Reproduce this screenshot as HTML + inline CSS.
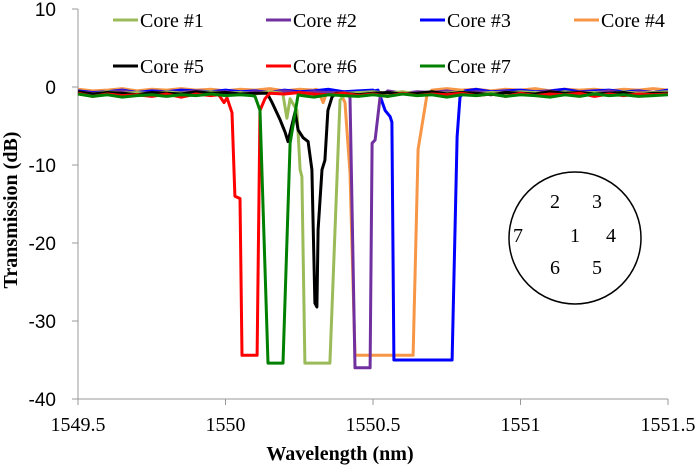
<!DOCTYPE html>
<html><head><meta charset="utf-8"><style>
body{margin:0;background:#fff;}
svg text{font-family:"Liberation Serif",serif;}
</style></head><body>
<svg id="chart" width="700" height="467" xmlns="http://www.w3.org/2000/svg">
<g id="axes"></g>
<g id="series"></g>
<g font-size="20">
 <line x1="113" y1="20" x2="138" y2="20" stroke="#9bbb59" stroke-width="3"/><text x="140" y="27">Core #1</text>
 <line x1="266" y1="20" x2="291" y2="20" stroke="#7030a0" stroke-width="3"/><text x="293" y="27">Core #2</text>
 <line x1="420" y1="20" x2="445" y2="20" stroke="#0000ff" stroke-width="3"/><text x="447" y="27">Core #3</text>
 <line x1="574" y1="20" x2="599" y2="20" stroke="#f79646" stroke-width="3"/><text x="601" y="27">Core #4</text>
 <line x1="113" y1="66" x2="138" y2="66" stroke="#000" stroke-width="3"/><text x="140" y="73">Core #5</text>
 <line x1="266" y1="66" x2="291" y2="66" stroke="#ff0000" stroke-width="3"/><text x="293" y="73">Core #6</text>
 <line x1="420" y1="66" x2="445" y2="66" stroke="#008000" stroke-width="3"/><text x="447" y="73">Core #7</text>
</g>
<g font-size="20" text-anchor="middle">
 <circle cx="575" cy="238" r="66" fill="#fff" stroke="#000" stroke-width="1.5"/>
 <text x="555" y="208">2</text><text x="597" y="208">3</text>
 <text x="518" y="242">7</text><text x="575" y="242">1</text><text x="611" y="242">4</text>
 <text x="555" y="274">6</text><text x="597" y="274">5</text>
</g>
<text x="340" y="460" font-size="20" font-weight="bold" text-anchor="middle">Wavelength (nm)</text>
<text transform="translate(17,210) rotate(-90)" font-size="20" font-weight="bold" text-anchor="middle">Transmission (dB)</text>
</svg>
<script>
const xTicks=[1549.5,1550,1550.5,1551,1551.5];
const xTickLabels=["1549.5","1550","1550.5","1551","1551.5"];
const yTicks=[10,0,-10,-20,-30,-40];
const yTickLabels=["10","0","-10","-20","-30","-40"];
const seriesNames=["Core #1","Core #2","Core #3","Core #4","Core #5","Core #6","Core #7"];
const seriesColors=["#9bbb59","#7030a0","#0000ff","#f79646","#000000","#ff0000","#008000"];
const baseWl=[1549.5,1549.55,1549.6,1549.65,1549.7,1549.75,1549.8,1549.85,1549.9,1549.95,1550.0,1550.05,1550.1,1550.15,1550.2,1550.25,1550.3,1550.35,1550.4,1550.45,1550.5,1550.55,1550.6,1550.65,1550.7,1550.75,1550.8,1550.85,1550.9,1550.95,1551.0,1551.05,1551.1,1551.15,1551.2,1551.25,1551.3,1551.35,1551.4,1551.45,1551.5];
const base1=[-0.7,-0.9,-0.6,-0.8,-0.7,-0.9,-0.6,-0.8,-0.7,-0.6,-0.8,-0.7,-0.9,-0.6,-0.8,-0.7,-0.9,-0.6,-0.8,-0.7,-0.6,-0.8,-0.6,-0.9,-0.7,-0.8,-0.6,-0.9,-0.7,-0.8,-0.6,-0.7,-0.9,-0.6,-0.8,-0.7,-0.9,-0.6,-0.8,-0.7,-0.6];
const base2=[-0.6,-0.8,-0.7,-0.5,-0.8,-0.7,-0.6,-0.7,-0.5,-0.7,-0.6,-0.8,-0.6,-0.7,-0.5,-0.8,-0.6,-0.7,-0.6,-0.8,-0.7,-0.5,-0.8,-0.6,-0.7,-0.5,-0.8,-0.6,-0.7,-0.6,-0.8,-0.7,-0.5,-0.8,-0.6,-0.7,-0.5,-0.8,-0.6,-0.7,-0.7];
const base3=[-0.5,-0.7,-0.6,-0.4,-0.7,-0.5,-0.6,-0.4,-0.5,-0.6,-0.4,-0.6,-0.5,-0.7,-0.4,-0.6,-0.5,-0.3,-0.6,-0.5,-0.4,-0.6,-0.5,-0.7,-0.4,-0.6,-0.5,-0.3,-0.6,-0.5,-0.4,-0.6,-0.5,-0.3,-0.6,-0.5,-0.4,-0.6,-0.5,-0.7,-0.4];
const base4=[-0.3,-0.5,-0.4,-0.2,-0.5,-0.3,-0.4,-0.2,-0.4,-0.3,-0.5,-0.3,-0.4,-0.2,-0.5,-0.3,-0.4,-0.3,-0.5,-0.3,-0.4,-0.2,-0.5,-0.3,-0.4,-0.2,-0.4,-0.3,-0.5,-0.3,-0.4,-0.2,-0.5,-0.3,-0.4,-0.3,-0.5,-0.3,-0.4,-0.2,-0.4];
const base5=[-0.6,-0.9,-0.7,-0.8,-1.0,-0.7,-0.8,-0.9,-0.6,-0.8,-0.7,-0.9,-0.8,-0.7,-1.0,-0.8,-0.7,-0.9,-0.8,-1.0,-0.8,-0.7,-0.9,-0.8,-0.6,-0.9,-0.7,-0.8,-1.0,-0.7,-0.8,-0.9,-0.6,-0.8,-0.7,-0.9,-0.8,-0.7,-1.0,-0.8,-0.8];
const base6=[-0.8,-1.2,-0.9,-1.1,-1.0,-1.2,-0.9,-1.3,-0.9,-1.1,-1.0,-1.2,-0.9,-0.8,-0.9,-0.7,-0.9,-1.0,-0.8,-1.1,-0.9,-1.2,-0.8,-1.1,-0.9,-1.0,-0.8,-1.1,-0.9,-1.2,-0.8,-1.1,-0.9,-1.0,-0.8,-1.2,-0.9,-1.1,-0.9,-1.0,-0.9];
const base7=[-0.9,-1.2,-1.0,-1.3,-1.1,-1.0,-1.2,-1.0,-1.1,-0.9,-1.1,-1.0,-1.2,-0.9,-1.1,-1.0,-1.3,-1.0,-1.1,-1.2,-1.0,-1.2,-0.9,-1.1,-1.0,-1.3,-1.0,-1.1,-0.9,-1.2,-1.0,-1.1,-1.3,-1.0,-1.2,-0.9,-1.1,-1.0,-1.2,-1.1,-1.0];
// dip features [wavelength, dB]
const dipWl1=[1550.19,1550.195,1550.208,1550.219,1550.242,1550.253,1550.259,1550.269,1550.354,1550.388,1550.405];
const dipDb1=[-0.8,-1.0,-4.0,-1.5,-3.0,-10.6,-11.5,-35.4,-35.4,-1.7,-0.8];
const dipWl2=[1550.395,1550.405,1550.422,1550.439,1550.49,1550.497,1550.507,1550.524,1550.544];
const dipDb2=[-0.7,-0.7,-1.3,-36.0,-36.0,-7.2,-6.8,-1.3,-0.7];
const dipWl3=[1550.505,1550.517,1550.541,1550.558,1550.564,1550.571,1550.768,1550.785,1550.795,1550.812];
const dipDb3=[-0.5,-0.4,-3.0,-3.8,-4.5,-35.0,-35.0,-6.4,-1.3,-0.5];
const dipWl4=[1550.305,1550.314,1550.331,1550.344,1550.388,1550.405,1550.422,1550.439,1550.636,1550.653,1550.683,1550.7];
const dipDb4=[-0.3,-0.4,-2.0,-0.6,-0.6,-2.0,-11.0,-34.4,-34.4,-8.0,-1.0,-0.4];
const dipWl5=[1550.13,1550.141,1550.158,1550.185,1550.202,1550.212,1550.236,1550.246,1550.263,1550.28,1550.293,1550.303,1550.31,1550.314,1550.327,1550.337,1550.347,1550.361,1550.375];
const dipDb5=[-0.8,-0.8,-2.0,-4.2,-5.8,-7.0,-3.2,-5.5,-6.5,-7.0,-10.6,-27.7,-28.2,-18.3,-10.6,-9.4,-3.0,-1.3,-0.8];
const dipWl6=[1549.975,1549.981,1549.995,1550.005,1550.022,1550.032,1550.049,1550.056,1550.107,1550.117,1550.134,1550.145];
const dipDb6=[-1.0,-1.2,-2.0,-1.4,-3.3,-14.0,-14.3,-34.4,-34.4,-3.0,-1.5,-1.0];
const dipWl7=[1550.09,1550.1,1550.117,1550.144,1550.195,1550.219,1550.246,1550.26];
const dipDb7=[-1.1,-1.2,-3.0,-35.4,-35.4,-7.2,-1.0,-1.1];
const dipWls=[dipWl1,dipWl2,dipWl3,dipWl4,dipWl5,dipWl6,dipWl7];
const dipDbs=[dipDb1,dipDb2,dipDb3,dipDb4,dipDb5,dipDb6,dipDb7];
const bases=[base1,base2,base3,base4,base5,base6,base7];

const NS="http://www.w3.org/2000/svg";
const X0=78,X1=668,Y0=399,Y1=9;
function xs(v){return X0+(v-1549.5)/2*(X1-X0);}
function ys(v){return Y0-(v+40)/50*(Y0-Y1);}
function mk(t,a,p){const e=document.createElementNS(NS,t);for(const k in a)e.setAttribute(k,a[k]);p.appendChild(e);return e;}
const ax=document.getElementById('axes');
const yl=mk('line',{x1:X0,y1:Y1,x2:X0,y2:Y0,stroke:'#999','stroke-width':1},ax);


const xl=mk('line',{x1:X0,y1:Y0,x2:X1,y2:Y0,stroke:'#999','stroke-width':1},ax);


yTicks.forEach((v,i)=>{
 mk('line',{x1:X0-6,y1:ys(v),x2:X0,y2:ys(v),stroke:'#999'},ax);
 const t=mk('text',{x:X0-22,y:ys(v)+7,'font-size':19,'text-anchor':'end',style:'font-family:"Liberation Sans",sans-serif'},ax);
 t.textContent=yTickLabels[i];
 
 
});
xTicks.forEach((v,i)=>{
 mk('line',{x1:xs(v),y1:Y0,x2:xs(v),y2:Y0+6,stroke:'#999'},ax);
 const t=mk('text',{x:xs(v),y:Y0+32,'font-size':20,'text-anchor':'middle'},ax);
 t.textContent=xTickLabels[i];
 
 
});
const sg=document.getElementById('series');
const order=[3,2,1,0,4,5,6];
order.forEach(i=>{
 const w=dipWls[i],d=dipDbs[i],b=bases[i];
 const lo=w[0],hi=w[w.length-1];
 let pts=[];
 baseWl.forEach((bw,j)=>{if(bw<lo)pts.push([bw,b[j]]);});
 w.forEach((ww,j)=>pts.push([ww,d[j]]));
 baseWl.forEach((bw,j)=>{if(bw>hi)pts.push([bw,b[j]]);});
 const p=mk('polyline',{points:pts.map(q=>xs(q[0]).toFixed(1)+','+ys(q[1]).toFixed(1)).join(' '),fill:'none',stroke:seriesColors[i],'stroke-width':3,'stroke-linejoin':'round'},sg);
 
 
});
</script>
</body></html>
